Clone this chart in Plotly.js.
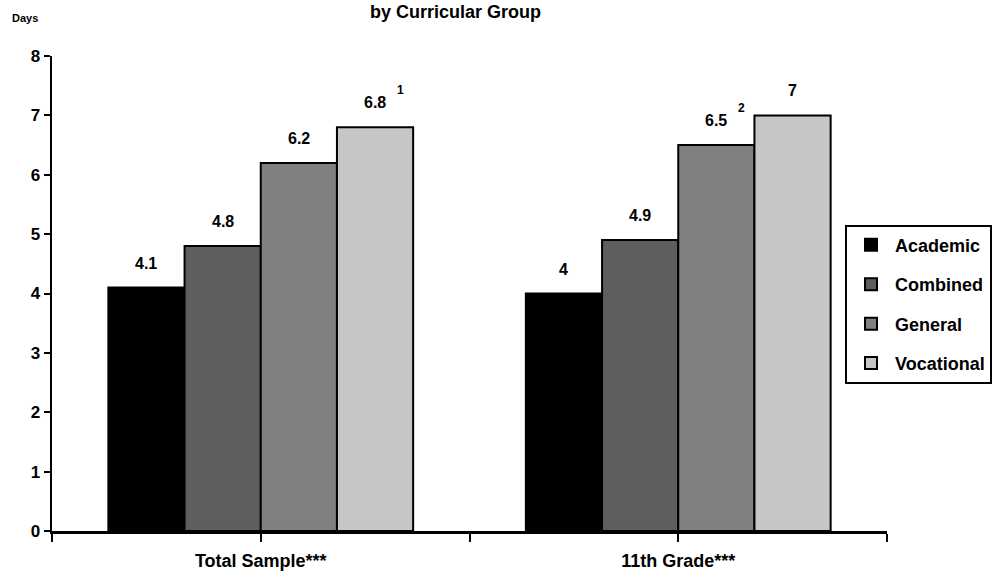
<!DOCTYPE html>
<html>
<head>
<meta charset="utf-8">
<script src="https://cdn.plot.ly/plotly-3.0.1.min.js"></script>
<style>html,body{margin:0;padding:0;background:#fff;}#chart{width:1003px;height:573px;}</style>
</head>
<body>
<div id="chart"></div>
<script>
const categories = ['Total Sample***', '11th Grade***'];
const seriesNames = ['Academic', 'Combined', 'General', 'Vocational'];
const academic = [4.1, 4.0];
const combined = [4.8, 4.9];
const general = [6.2, 6.5];
const vocational = [6.8, 7.0];
const valueLabels = [['4.1', '4'], ['4.8', '4.9'], ['6.2', '6.5'], ['6.8', '7']];
const footnotes = [['', ''], ['', ''], ['', '2'], ['1', '']];
const yTicks = [0, 1, 2, 3, 4, 5, 6, 7, 8];
const colors = ['#000000', '#5e5e5e', '#808080', '#c6c6c6'];

const series = [academic, combined, general, vocational];
const xIdx = categories.map((c, i) => i);
const bargap = 0.27;
const w = (1 - bargap) / series.length;

const font = {family: 'Liberation Sans, Arial, sans-serif', color: '#000'};

const traces = series.map((vals, j) => ({
  type: 'bar',
  name: seriesNames[j],
  legendgroup: seriesNames[j],
  x: xIdx,
  y: vals,
  marker: {color: colors[j], line: {color: '#000', width: 2}},
  hoverinfo: 'skip'
}));

const annotations = [];
series.forEach((vals, j) => {
  vals.forEach((v, i) => {
    const xpos = i + (j - (series.length - 1) / 2) * w;
    annotations.push({
      x: xpos, y: v, xref: 'x', yref: 'y',
      text: valueLabels[j][i], showarrow: false,
      yanchor: 'bottom', yshift: 14,
      font: Object.assign({}, font, {size: 16, weight: 'bold'})
    });
    if (footnotes[j][i]) {
      annotations.push({
        x: xpos, y: v, xref: 'x', yref: 'y',
        text: footnotes[j][i], showarrow: false,
        yanchor: 'bottom', yshift: 28, xshift: 25,
        font: Object.assign({}, font, {size: 12, weight: 'bold'})
      });
    }
  });
});

annotations.push({
  text: 'by Curricular Group', xref: 'paper', yref: 'paper',
  x: 0.483, y: 1.118, xanchor: 'center', yanchor: 'top', showarrow: false,
  font: Object.assign({}, font, {size: 18, weight: 'bold'})
});
annotations.push({
  text: 'Days', xref: 'paper', yref: 'paper',
  x: -0.032, y: 1.08, xanchor: 'center', yanchor: 'middle', showarrow: false,
  font: Object.assign({}, font, {size: 11, weight: 'bold'})
});

const tickPositions = [];
const tickTexts = [];
xIdx.forEach((i) => {
  tickPositions.push(i - 0.5, i);
  tickTexts.push('', categories[i]);
});
tickPositions.push(xIdx.length - 0.5);
tickTexts.push('');

const layout = {
  width: 1003, height: 573,
  margin: {l: 52, r: 115, t: 56, b: 42},
  paper_bgcolor: '#fff', plot_bgcolor: '#fff',
  barmode: 'group', bargap: bargap, bargroupgap: 0,
  showlegend: true,
  legend: {
    x: 0.9486, y: 0.645, xanchor: 'left', yanchor: 'top',
    bordercolor: '#000', borderwidth: 2, bgcolor: '#fff',
    font: Object.assign({}, font, {size: 18, weight: 'bold'}),
    traceorder: 'grouped', tracegroupgap: 13,
    itemwidth: 38,
    itemclick: false
  },
  xaxis: {
    range: [-0.5, xIdx.length - 0.5], tickmode: 'array',
    tickvals: tickPositions, ticktext: tickTexts,
    showgrid: false, zeroline: false, showline: true,
    linecolor: '#000', linewidth: 2.5,
    ticks: 'outside', ticklen: 8, tickwidth: 2, tickcolor: '#000',
    ticklabelstandoff: 4,
    tickfont: Object.assign({}, font, {size: 18, weight: 'bold'}),
    fixedrange: true
  },
  yaxis: {
    range: [0, 8], tickmode: 'array', tickvals: yTicks,
    showgrid: false, zeroline: false, showline: true,
    linecolor: '#000', linewidth: 2.5,
    ticks: 'outside', ticklen: 6, tickwidth: 2, tickcolor: '#000',
    tickfont: Object.assign({}, font, {size: 17, weight: 'bold'}),
    fixedrange: true
  },
  annotations: annotations
};

Plotly.newPlot('chart', traces, layout, {displayModeBar: false, staticPlot: true});
</script>
</body>
</html>
